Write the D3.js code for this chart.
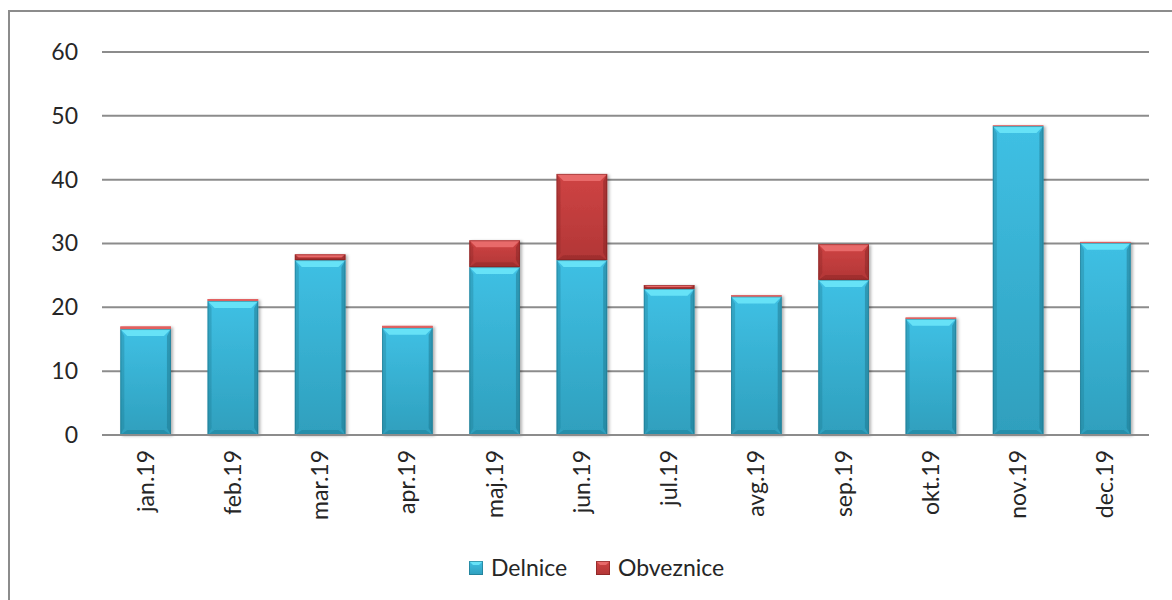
<!DOCTYPE html>
<html>
<head>
<meta charset="utf-8">
<script src="https://cdn.jsdelivr.net/npm/d3@7"></script>
<style>
  body { margin: 0; background: #fff; }
  svg text { font-family: Lato, "Open Sans", sans-serif; fill: #262626; }
</style>
</head>
<body>
<svg id="chart" width="1172" height="600"></svg>
<script>
const months = ['jan.19', 'feb.19', 'mar.19', 'apr.19', 'maj.19', 'jun.19',
  'jul.19', 'avg.19', 'sep.19', 'okt.19', 'nov.19', 'dec.19']
const delnice = [16.6, 21.0, 27.4, 16.8, 26.3, 27.4, 22.9, 21.7, 24.3, 18.2, 48.4, 30.1]
const obveznice = [0.4, 0.3, 0.9, 0.3, 4.2, 13.5, 0.6, 0.2, 5.6, 0.2, 0.1, 0.15]
const seriesNames = ['Delnice', 'Obveznice']
const yTicks = [0, 10, 20, 30, 40, 50, 60]

const palette = {
  Delnice: { top: '#3fc0e4', bottom: '#2f9fbd', light: '#66e2f7', dark: '#207a92', edge: '#1d6f85' },
  Obveznice: { top: '#cf4444', bottom: '#b23636', light: '#e86a6a', dark: '#8a2626', edge: '#7a2020' }
}

const svg = d3.select('#chart')
const margin = { top: 52, left: 102, right: 1149, bottom: 435 }

const x = d3.scaleBand()
  .domain(months)
  .range([margin.left, margin.right])
  .paddingInner(0.42)
  .paddingOuter(0.21)

const y = d3.scaleLinear()
  .domain([0, 60])
  .range([margin.bottom, margin.top])

const defs = svg.append('defs')
seriesNames.forEach(name => {
  const g = defs.append('linearGradient')
    .attr('id', 'grad-' + name)
    .attr('x1', 0).attr('y1', 0).attr('x2', 0).attr('y2', 1)
  g.append('stop').attr('offset', '0%').attr('stop-color', palette[name].top)
  g.append('stop').attr('offset', '100%').attr('stop-color', palette[name].bottom)
})
const shadow = defs.append('filter').attr('id', 'shadow')
  .attr('x', '-20%').attr('y', '-5%').attr('width', '150%').attr('height', '115%')
shadow.append('feDropShadow')
  .attr('dx', 2).attr('dy', 1).attr('stdDeviation', 1.6)
  .attr('flood-color', '#000').attr('flood-opacity', 0.3)

// frame
svg.append('path')
  .attr('d', 'M9,600 L9,11 L1172,11')
  .attr('fill', 'none')
  .attr('stroke', '#8c8c8c')
  .attr('stroke-width', 2)

// grid lines
svg.append('g')
  .selectAll('line').data(yTicks).enter().append('line')
  .attr('x1', margin.left)
  .attr('x2', margin.right)
  .attr('y1', d => y(d))
  .attr('y2', d => y(d))
  .attr('stroke', '#8c8c8c')
  .attr('stroke-width', 2)

// y axis labels
svg.append('g')
  .attr('transform', `translate(${margin.left - 24},0)`)
  .call(d3.axisLeft(y).tickValues(yTicks).tickSize(0).tickPadding(0))
  .call(g => g.select('.domain').remove())
  .call(g => g.selectAll('text')
    .attr('font-size', 23)
    .attr('font-family', 'Lato, sans-serif')
    .attr('fill', '#262626'))

// stacked bars
const table = months.map((m, i) => ({ month: m, Delnice: delnice[i], Obveznice: obveznice[i] }))
const stacked = d3.stack().keys(seriesNames)(table)

function bevelBar (g, x0, y0, w, h, name) {
  const c = palette[name]
  g.append('rect')
    .attr('x', x0).attr('y', y0).attr('width', w).attr('height', h)
    .attr('fill', `url(#grad-${name})`)
  if (h < 3) {
    g.append('rect')
      .attr('x', x0).attr('y', y0).attr('width', w).attr('height', h)
      .attr('fill', c.light).attr('opacity', 0.8)
    return
  }
  const b = Math.min(7, h / 2)
  const s = Math.min(4, w / 4)
  // top bevel
  g.append('path')
    .attr('d', `M${x0},${y0} L${x0 + w},${y0} L${x0 + w - b},${y0 + b} L${x0 + b},${y0 + b} Z`)
    .attr('fill', c.light)
  // left side
  g.append('path')
    .attr('d', `M${x0},${y0} L${x0 + s},${y0 + b} L${x0 + s},${y0 + h - b} L${x0},${y0 + h} Z`)
    .attr('fill', c.dark).attr('opacity', 0.35)
  // right side
  g.append('path')
    .attr('d', `M${x0 + w},${y0} L${x0 + w - s},${y0 + b} L${x0 + w - s},${y0 + h - b} L${x0 + w},${y0 + h} Z`)
    .attr('fill', c.dark).attr('opacity', 0.55)
  // bottom bevel
  g.append('path')
    .attr('d', `M${x0},${y0 + h} L${x0 + w},${y0 + h} L${x0 + w - b},${y0 + h - b * 0.7} L${x0 + b},${y0 + h - b * 0.7} Z`)
    .attr('fill', c.dark).attr('opacity', 0.45)
  g.append('rect')
    .attr('x', x0 + 0.5).attr('y', y0 + 0.5).attr('width', w - 1).attr('height', h - 1)
    .attr('fill', 'none').attr('stroke', c.edge).attr('stroke-opacity', 0.5)
}

const barLayer = svg.append('g').attr('filter', 'url(#shadow)')
stacked.forEach(layer => {
  layer.forEach(d => {
    const g = barLayer.append('g')
    bevelBar(g, x(d.data.month), y(d[1]), x.bandwidth(), y(d[0]) - y(d[1]), layer.key)
  })
})

// baseline on top of bars
svg.append('line')
  .attr('x1', margin.left).attr('x2', margin.right)
  .attr('y1', y(0)).attr('y2', y(0))
  .attr('stroke', '#8c8c8c').attr('stroke-width', 2)

// x axis labels
svg.append('g')
  .selectAll('text').data(months).enter().append('text')
  .attr('transform', d => `translate(${x(d) + x.bandwidth() / 2},450) rotate(-90)`)
  .attr('text-anchor', 'end')
  .attr('dy', '0.35em')
  .attr('font-size', 23)
  .text(d => d)

// legend
const legendX = [469, 596]
const legend = svg.append('g')
seriesNames.forEach((name, i) => {
  const c = palette[name]
  const lx = legendX[i]
  legend.append('rect')
    .attr('x', lx).attr('y', 561).attr('width', 14).attr('height', 14)
    .attr('fill', `url(#grad-${name})`)
  legend.append('path')
    .attr('d', `M${lx},561 L${lx + 14},561 L${lx + 10},565 L${lx + 4},565 Z`)
    .attr('fill', c.light)
  legend.append('rect')
    .attr('x', lx + 0.5).attr('y', 561.5).attr('width', 13).attr('height', 13)
    .attr('fill', 'none').attr('stroke', c.edge).attr('stroke-opacity', 0.6)
  legend.append('text')
    .attr('x', lx + 22).attr('y', 576)
    .attr('font-size', 23)
    .text(name)
})
</script>
</body>
</html>
